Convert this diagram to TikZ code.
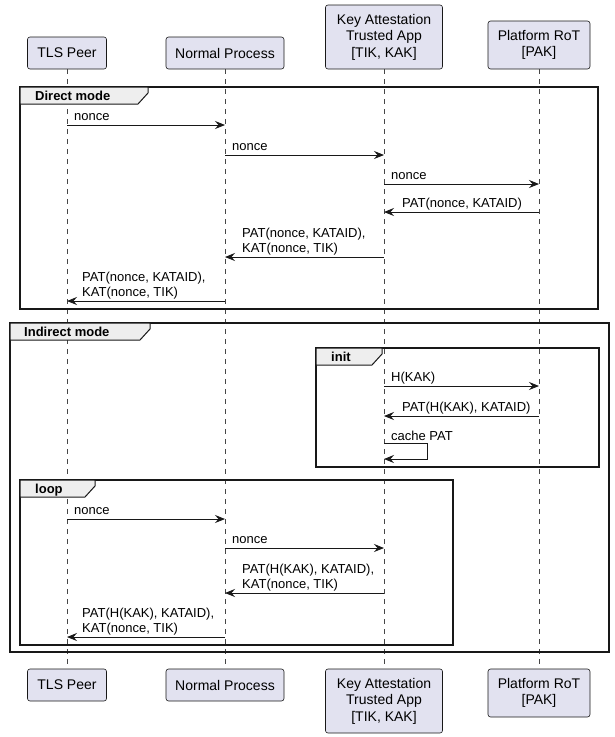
\documentclass[tikz,border=0pt]{standalone}
\usepackage{fontspec}
\setmainfont{Liberation Sans}
\usetikzlibrary{arrows.meta,calc}
\definecolor{partfill}{HTML}{E2E2F0}
\definecolor{ink}{HTML}{181818}
\definecolor{tabfill}{HTML}{EEEEEE}
\newcommand{\twoln}[2]{\begin{tabular}[b]{@{}l@{}}#1\\#2\end{tabular}}
\begin{document}
\begin{tikzpicture}[x=1pt,y=-1pt,
  part/.style={draw=ink,fill=partfill,rounded corners=2.5pt,line width=0.6pt,align=center,
     font=\fontsize{14}{16.5}\selectfont,inner sep=0pt},
  life/.style={draw=ink!80,line width=0.5pt,dash pattern=on 5pt off 5pt},
  msg/.style={draw=ink,line width=0.9pt,-{Stealth[length=10pt,width=8pt,inset=3.5pt]}},
  lbl/.style={anchor=base west,inner sep=0pt,font=\fontsize{13}{15.5}\selectfont,text=black},
  frm/.style={draw=ink,line width=1.5pt},
  tabs/.style={draw=ink,fill=tabfill,line width=1pt},
  tablbl/.style={anchor=base west,inner sep=0pt,font=\fontsize{13}{15.5}\selectfont\bfseries}]
\useasboundingbox (0,0) rectangle (615,737);
% participants (top)
\node[part,minimum width=79pt,minimum height=32pt] (tlsT) at (67,53) {TLS Peer};
\node[part,minimum width=118pt,minimum height=32pt] (npT) at (225,53) {Normal Process};
\node[part,minimum width=117pt,minimum height=64pt] (kaT) at (384,37) {Key Attestation\\Trusted App\\{[}TIK, KAK{]}};
\node[part,minimum width=102pt,minimum height=48pt] (prT) at (539,45) {Platform RoT\\{[}PAK{]}};
% participants (bottom)
\node[part,minimum width=79pt,minimum height=32pt] (tlsB) at (67,685) {TLS Peer};
\node[part,minimum width=118pt,minimum height=32pt] (npB) at (225,685) {Normal Process};
\node[part,minimum width=117pt,minimum height=64pt] (kaB) at (384,701) {Key Attestation\\Trusted App\\{[}TIK, KAK{]}};
\node[part,minimum width=102pt,minimum height=48pt] (prB) at (539,693) {Platform RoT\\{[}PAK{]}};
% lifelines
\draw[life] (tlsT.south) -- (tlsB.north);
\draw[life] (npT.south) -- (npB.north);
\draw[life] (kaT.south) -- (kaB.north);
\draw[life] (prT.south) -- (prB.north);

% ---- Direct mode frame
\draw[frm] (20,87) rectangle (598,309);
\draw[tabs] (20,87) -- (148,87) -- (148,93) -- (138,104) -- (20,104) -- cycle;
\node[tablbl] (fDirect) at (35,100) {Direct mode};

\draw[msg] (tlsT |- 0,125) -- (npT |- 0,125);
\node[lbl] (m1) at ($(tlsT |- 0,125)+(7,-4.5)$) {nonce};
\draw[msg] (npT |- 0,155) -- (kaT |- 0,155);
\node[lbl] (m2) at ($(npT |- 0,155)+(7,-4.5)$) {nonce};
\draw[msg] (kaT |- 0,184) -- (prT |- 0,184);
\node[lbl] (m3) at ($(kaT |- 0,184)+(7,-4.5)$) {nonce};
\draw[msg] (prT |- 0,212) -- (kaT |- 0,212);
\node[lbl] (m4) at ($(kaT |- 0,212)+(18,-4.5)$) {PAT(nonce, KATAID)};
\draw[msg] (kaT |- 0,257) -- (npT |- 0,257);
\node[lbl] (m5) at ($(npT |- 0,257)+(17,-4.5)$) {\twoln{PAT(nonce, KATAID),}{KAT(nonce, TIK)}};
\draw[msg] (npT |- 0,301) -- (tlsT |- 0,301);
\node[lbl] (m6) at ($(tlsT |- 0,301)+(15,-4.5)$) {\twoln{PAT(nonce, KATAID),}{KAT(nonce, TIK)}};

% ---- Indirect mode frame
\draw[frm] (10,323) rectangle (609,652);
\draw[tabs] (10,323) -- (150,323) -- (150,329) -- (140,340) -- (10,340) -- cycle;
\node[tablbl] (fIndirect) at (24,336) {Indirect mode};

% init
\draw[frm] (316,348) rectangle (599,467);
\draw[tabs] (316,348) -- (382,348) -- (382,354) -- (372,365) -- (316,365) -- cycle;
\node[tablbl] (fInit) at (331,361) {init};

\draw[msg] (kaT |- 0,386) -- (prT |- 0,386);
\node[lbl] (n1) at ($(kaT |- 0,386)+(7,-4.5)$) {H(KAK)};
\draw[msg] (prT |- 0,416) -- (kaT |- 0,416);
\node[lbl] (n2) at ($(kaT |- 0,416)+(18,-4.5)$) {PAT(H(KAK), KATAID)};
\coordinate (selfA) at (kaT |- 0,443);
\coordinate (selfB) at (kaT |- 0,459);
\draw[msg] (selfA) -- ++(43,0) -- ++(0,16) -- (selfB);
\node[lbl] (n3) at ($(selfA)+(7,-2.5)$) {cache PAT};

% loop
\draw[frm] (20,480) rectangle (453,645);
\draw[tabs] (20,480) -- (95,480) -- (95,486) -- (85,497) -- (20,497) -- cycle;
\node[tablbl] (fLoop) at (35,493) {loop};

\draw[msg] (tlsT |- 0,519) -- (npT |- 0,519);
\node[lbl] (l1) at ($(tlsT |- 0,519)+(7,-4.5)$) {nonce};
\draw[msg] (npT |- 0,548) -- (kaT |- 0,548);
\node[lbl] (l2) at ($(npT |- 0,548)+(7,-4.5)$) {nonce};
\draw[msg] (kaT |- 0,593) -- (npT |- 0,593);
\node[lbl] (l3) at ($(npT |- 0,593)+(17,-4.5)$) {\twoln{PAT(H(KAK), KATAID),}{KAT(nonce, TIK)}};
\draw[msg] (npT |- 0,637) -- (tlsT |- 0,637);
\node[lbl] (l4) at ($(tlsT |- 0,637)+(15,-4.5)$) {\twoln{PAT(H(KAK), KATAID),}{KAT(nonce, TIK)}};
\end{tikzpicture}
\end{document}
